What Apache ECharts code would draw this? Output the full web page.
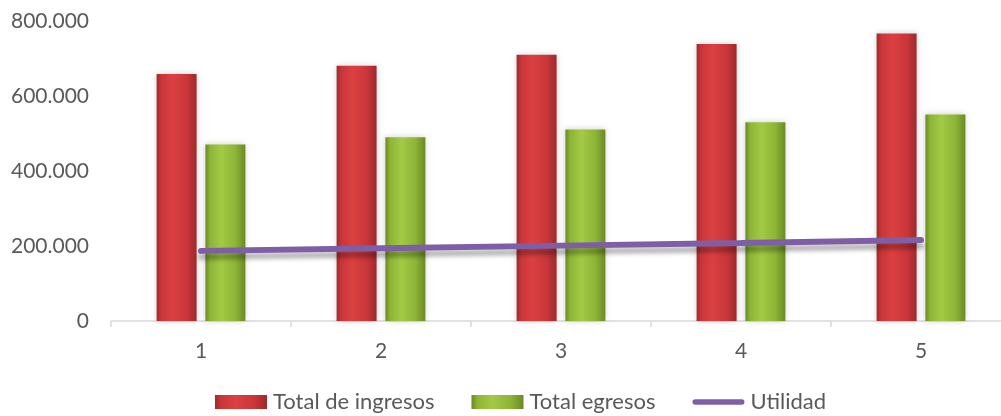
<!DOCTYPE html>
<html>
<head>
<meta charset="utf-8">
<script src="https://cdn.jsdelivr.net/npm/echarts@6/dist/echarts.min.js"></script>
<style>
  html, body { margin: 0; padding: 0; background: #fff; overflow: hidden; }
  #chart { width: 1011px; height: 416px; }
</style>
</head>
<body>
<div id="chart"></div>
<script>
// Periods and yearly figures
const periods = ['1', '2', '3', '4', '5'];
const ingresos = [659000, 681000, 710000, 739000, 767000];
const egresos = [471000, 490000, 511000, 530000, 551000];
const utilidad = [187000, 194000, 201000, 208000, 216000];
const yTicks = [0, 200000, 400000, 600000, 800000];

const FONT = 'Lato, "Open Sans", sans-serif';

function fmt(v) {
  if (v === 0) return '0';
  return Math.round(v / 1000) + '.000';
}

function barGrad(edge, mid, light) {
  return new echarts.graphic.LinearGradient(0, 0, 1, 0, [
    { offset: 0, color: edge },
    { offset: 0.12, color: mid },
    { offset: 0.4, color: light },
    { offset: 0.75, color: mid },
    { offset: 1, color: edge }
  ]);
}

const redFill = barGrad('#9E2A2B', '#C9363A', '#DC4040');
const greenFill = barGrad('#6A8A26', '#8DB536', '#A2CA45');

const chart = echarts.init(document.getElementById('chart'), null, { renderer: 'canvas' });

chart.setOption({
  animation: false,
  backgroundColor: '#ffffff',
  grid: { left: 111, top: 21, right: 0, bottom: 95, containLabel: false },
  legend: {
    left: 215,
    top: 391,
    padding: 0,
    itemWidth: 52,
    itemHeight: 14,
    itemGap: 37,
    textStyle: { fontFamily: FONT, fontSize: 22, color: '#595959', padding: [0, 0, 0, 1] },
    data: [
      { name: 'Total de ingresos', icon: 'rect', itemStyle: { color: redFill } },
      { name: 'Total egresos', icon: 'rect', itemStyle: { color: greenFill } },
      {
        name: 'Utilidad',
        icon: 'path://M3,0 L55,0 A3,3 0 0 1 55,6 L3,6 A3,3 0 0 1 3,0 Z',
        itemStyle: { color: '#7E5FA6' }
      }
    ]
  },
  xAxis: {
    type: 'category',
    data: periods,
    boundaryGap: true,
    axisLine: { lineStyle: { color: '#D9D9D9', width: 1.5 } },
    axisTick: { show: true, length: 6, lineStyle: { color: '#D9D9D9', width: 1.5 } },
    axisLabel: { margin: 20, fontFamily: FONT, fontSize: 21, color: '#595959' }
  },
  yAxis: {
    type: 'value',
    min: 0,
    max: 800000,
    interval: 200000,
    axisLine: { show: false },
    axisTick: { show: false },
    splitLine: { show: false },
    axisLabel: {
      margin: 22,
      fontFamily: FONT,
      fontSize: 21,
      color: '#595959',
      formatter: function (v) { return yTicks.indexOf(v) >= 0 ? fmt(v) : ''; }
    }
  },
  series: [
    {
      name: 'Total de ingresos',
      type: 'bar',
      data: ingresos,
      barWidth: 40,
      barGap: '22%',
      itemStyle: {
        color: redFill,
        shadowColor: 'rgba(0,0,0,0.18)',
        shadowBlur: 6
      }
    },
    {
      name: 'Total egresos',
      type: 'bar',
      data: egresos,
      barWidth: 40,
      barGap: '22%',
      itemStyle: {
        color: greenFill,
        shadowColor: 'rgba(0,0,0,0.18)',
        shadowBlur: 6
      }
    },
    {
      name: 'Utilidad',
      type: 'line',
      data: utilidad,
      symbol: 'none',
      z: 5,
      itemStyle: { color: '#7E5FA6' },
      lineStyle: {
        color: '#7E5FA6',
        width: 6,
        cap: 'round',
        shadowColor: 'rgba(0,0,0,0.3)',
        shadowBlur: 4,
        shadowOffsetY: 6
      }
    }
  ]
});
</script>
</body>
</html>
